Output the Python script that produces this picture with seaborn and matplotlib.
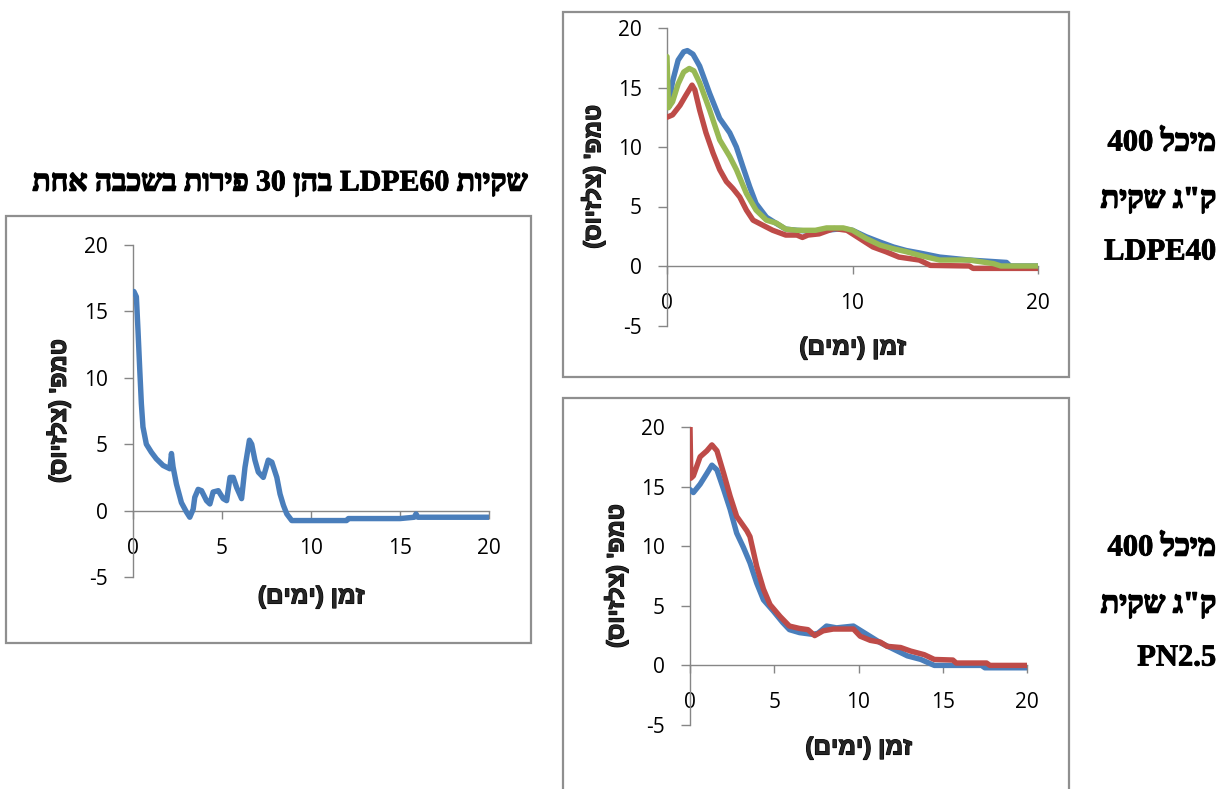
import matplotlib
matplotlib.use("Agg")
import matplotlib.pyplot as plt
from matplotlib.patches import Rectangle
from matplotlib.offsetbox import TextArea, HPacker, AnnotationBbox
import matplotlib.patheffects as pe
import seaborn as sns
import pandas as pd

# ---------------- data ----------------
# LDPE40 panel (top right)
ldpe40_blue_x = [0, 0.1, 0.3, 0.6, 0.9, 1.1, 1.4, 1.76, 2.3, 2.84, 3.38, 3.74, 4.1, 4.46, 4.8, 5.36, 5.9, 6.4, 7.0, 8.0, 8.6, 9.2, 9.6, 10.0, 10.75, 11.5, 12.2, 12.9, 13.6, 14.7, 16.3, 18.3, 18.5, 20]
ldpe40_blue_y = [14.0, 13.6, 15.5, 17.3, 18.0, 18.1, 17.8, 16.8, 14.5, 12.4, 11.2, 10.0, 8.3, 6.65, 5.25, 4.1, 3.57, 3.1, 3.0, 2.9, 3.0, 3.1, 3.1, 3.0, 2.45, 2.0, 1.6, 1.3, 1.1, 0.75, 0.5, 0.3, 0.0, 0.0]
ldpe40_green_x = [0, 0.08, 0.3, 0.6, 0.9, 1.2, 1.45, 1.76, 2.3, 2.84, 3.38, 3.74, 4.28, 4.8, 5.36, 5.9, 6.4, 7.0, 8.0, 8.6, 9.0, 9.5, 10.0, 10.75, 11.5, 12.2, 12.9, 13.6, 14.7, 16.3, 17.6, 18.0, 20]
ldpe40_green_y = [17.6, 13.3, 13.8, 15.3, 16.3, 16.6, 16.4, 15.4, 13.1, 10.6, 9.2, 8.1, 6.1, 4.7, 3.85, 3.6, 3.1, 3.0, 3.0, 3.2, 3.2, 3.2, 3.0, 2.3, 1.75, 1.45, 1.2, 0.9, 0.5, 0.5, 0.2, 0.0, 0.0]
ldpe40_red_x = [0, 0.3, 0.7, 1.0, 1.35, 1.5, 1.76, 2.1, 2.48, 2.84, 3.2, 3.56, 3.92, 4.28, 4.64, 5.2, 5.7, 6.4, 7.0, 7.3, 7.6, 8.2, 9.0, 9.7, 10.4, 11.1, 11.8, 12.5, 13.6, 14.2, 16.3, 16.5, 20]
ldpe40_red_y = [12.5, 12.7, 13.5, 14.3, 15.2, 14.8, 13.1, 11.2, 9.5, 8.1, 7.1, 6.5, 5.8, 4.7, 3.85, 3.4, 3.0, 2.6, 2.6, 2.4, 2.6, 2.7, 3.15, 3.0, 2.3, 1.6, 1.2, 0.75, 0.5, 0.05, 0.0, -0.2, -0.2]

# PN2.5 panel (bottom right)
pn25_blue_x = [0, 0.2, 0.6, 1.0, 1.3, 1.6, 2.0, 2.38, 2.77, 3.17, 3.56, 3.96, 4.36, 4.95, 5.5, 5.9, 6.5, 7.3, 7.6, 8.1, 8.7, 9.7, 10.5, 11.3, 12.1, 12.9, 13.7, 14.5, 17.3, 17.5, 20]
pn25_blue_y = [14.75, 14.5, 15.2, 16.1, 16.8, 16.4, 14.75, 13.1, 11.1, 9.9, 8.6, 6.9, 5.5, 4.55, 3.6, 3.0, 2.75, 2.6, 2.7, 3.3, 3.15, 3.3, 2.6, 1.9, 1.35, 0.8, 0.5, 0.0, 0.0, -0.2, -0.2]
pn25_red_x = [0, 0.05, 0.2, 0.6, 1.0, 1.3, 1.6, 2.0, 2.38, 2.77, 3.37, 3.56, 3.96, 4.36, 4.75, 5.35, 5.9, 6.5, 7.0, 7.4, 7.9, 8.5, 9.7, 10.1, 10.7, 11.3, 11.7, 12.5, 13.1, 13.9, 14.5, 15.6, 15.8, 17.6, 17.8, 20]
pn25_red_y = [20.0, 15.7, 15.9, 17.5, 18.0, 18.5, 18.0, 16.1, 14.2, 12.5, 11.3, 10.8, 8.3, 6.4, 5.1, 4.1, 3.3, 3.1, 3.0, 2.5, 2.9, 3.05, 3.05, 2.45, 2.1, 1.95, 1.6, 1.5, 1.2, 0.9, 0.5, 0.45, 0.2, 0.2, 0.0, 0.0]

# LDPE60 panel (left)
ldpe60_x = [0.05, 0.19, 0.28, 0.38, 0.47, 0.56, 0.75, 1.03, 1.31, 1.69, 2.07, 2.16, 2.25, 2.44, 2.72, 3.0, 3.19, 3.38, 3.47, 3.66, 3.85, 4.13, 4.32, 4.5, 4.79, 5.07, 5.26, 5.45, 5.63, 5.82, 6.1, 6.29, 6.54, 6.67, 6.85, 7.04, 7.32, 7.6, 7.8, 8.08, 8.26, 8.45, 8.64, 8.92, 12.0, 12.1, 13.0, 13.1, 15.0, 15.8, 15.9, 16.0, 20]
ldpe60_y = [16.5, 16.1, 13.6, 10.6, 8.05, 6.3, 5.0, 4.4, 3.9, 3.4, 3.15, 4.3, 3.3, 2.0, 0.6, -0.1, -0.5, 0.1, 1.0, 1.6, 1.5, 0.75, 0.5, 1.4, 1.5, 0.9, 0.75, 2.5, 2.5, 1.75, 0.9, 3.25, 5.3, 5.0, 3.8, 2.9, 2.5, 3.8, 3.65, 2.5, 1.25, 0.4, -0.25, -0.75, -0.75, -0.6, -0.6, -0.6, -0.6, -0.5, -0.25, -0.5, -0.5]

title_text = "שקיות LDPE60 בהן 30 פירות בשכבה אחת"
side_top_lines = ["מיכל 400", "ק\"ג שקית", "LDPE40"]
side_bottom_lines = ["מיכל 400", "ק\"ג שקית", "PN2.5"]
xlabel_text = "זמן (ימים)"
ylabel_text = "טמפ' (צלזיוס)"
y_ticks = [-5, 0, 5, 10, 15, 20]
x_ticks_fine = [0, 5, 10, 15, 20]
x_ticks_coarse = [0, 10, 20]

BLUE = "#4A7EBB"
RED = "#BE4B48"
GREEN = "#98B954"
GRAY = "#868686"


def is_heb(t):
    return any("\u0590" <= c <= "\u05ff" for c in t)


def heb_words(s):
    """Logical-order text -> list of words in visual (left-to-right) order."""
    out = []
    for t in reversed(s.split(" ")):
        if is_heb(t):
            out.append(t[::-1].translate(str.maketrans("()", ")(")))
        else:
            out.append(t)
    return out


def heb(s):
    return " ".join(heb_words(s))


sns.set_theme(style="white")
plt.rcParams["font.family"] = ["Liberation Sans", "DejaVu Sans"]
plt.rcParams["axes.unicode_minus"] = False

W, H = 1220, 789
fig = plt.figure(figsize=(W / 100, H / 100), dpi=100)


def fig_rect(x0, y0, x1, y1):
    return [x0 / W, 1 - y1 / H, (x1 - x0) / W, (y1 - y0) / H]


def frame(x0, y0, x1, y1):
    fig.patches.append(Rectangle((x0 / W, 1 - y1 / H), (x1 - x0) / W, (y1 - y0) / H,
                                 transform=fig.transFigure, fill=False,
                                 edgecolor="#8f8f8f", linewidth=1.6, zorder=0))


frame(6, 216, 531, 643)
frame(563, 12, 1069, 377)
frame(563, 398, 1069, 820)

bold_fx = [pe.withStroke(linewidth=0.9, foreground="black")]


def style_axes(ax, xticks, xl_y, yl_x):
    ax.set_xlim(0, 20)
    ax.set_ylim(-5, 20)
    ax.set_facecolor("none")
    for s in ("top", "right"):
        ax.spines[s].set_visible(False)
    ax.spines["bottom"].set_position(("data", 0))
    for s in ("left", "bottom"):
        ax.spines[s].set_color(GRAY)
        ax.spines[s].set_linewidth(1.0)
        ax.spines[s].set_zorder(1)
    ax.set_xticks(xticks)
    ax.set_yticks(y_ticks)
    ax.tick_params(axis="y", direction="out", length=6.5, width=1.0, color=GRAY,
                   pad=11.5, labelsize=15, left=True, labelcolor="black")
    ax.tick_params(axis="x", direction="out", length=5.5, width=1.0, color=GRAY,
                   pad=14, labelsize=15, bottom=True, labelcolor="black")
    for lab in ax.get_xticklabels() + ax.get_yticklabels():
        lab.set_fontfamily(["Open Sans", "DejaVu Sans"])
    ax.grid(False)
    ax.set_xlabel(heb(xlabel_text), fontsize=17.5, fontweight="bold")
    ax.set_ylabel(heb(ylabel_text), fontsize=17, fontweight="bold")
    ax.xaxis.label.set_path_effects(bold_fx)
    ax.yaxis.label.set_path_effects(bold_fx)
    ax.xaxis.set_label_coords(0.5, xl_y)
    ax.xaxis.label.set_va("center")
    ax.yaxis.set_label_coords(yl_x, 0.5)
    ax.yaxis.label.set_va("center")
    if ax.get_legend() is not None:
        ax.get_legend().remove()


def draw(ax, xs, ys, color):
    df = pd.DataFrame({"x": xs, "y": ys})
    sns.lineplot(data=df, x="x", y="y", ax=ax, color=color, linewidth=3.9,
                 estimator=None, sort=False, zorder=3,
                 solid_joinstyle="round", solid_capstyle="round")


# Left panel
ax_l = fig.add_axes(fig_rect(133, 245, 489, 577))
draw(ax_l, ldpe60_x, ldpe60_y, BLUE)
style_axes(ax_l, x_ticks_fine, -0.060, -0.21)

# Top-right panel
ax_t = fig.add_axes(fig_rect(667, 28, 1038, 325.5))
draw(ax_t, ldpe40_blue_x, ldpe40_blue_y, BLUE)
draw(ax_t, ldpe40_red_x, ldpe40_red_y, RED)
draw(ax_t, ldpe40_green_x, ldpe40_green_y, GREEN)
style_axes(ax_t, x_ticks_coarse, -0.0756, -0.20)

# Bottom-right panel
ax_b = fig.add_axes(fig_rect(690, 427, 1027, 725))
draw(ax_b, pn25_blue_x, pn25_blue_y, BLUE)
draw(ax_b, pn25_red_x, pn25_red_y, RED)
style_axes(ax_b, x_ticks_fine, -0.077, -0.22)


def rich_text(x, y, s, size, halign):
    """Serif bold mixed Hebrew/Latin line, laid out in visual order."""
    words = heb_words(s)
    groups = []
    for w in words:
        h = is_heb(w)
        if groups and groups[-1][0] == h:
            groups[-1][1].append(w)
        else:
            groups.append([h, [w]])
    children = []
    for h, ws in groups:
        props = dict(fontsize=size, fontweight="bold",
                     family=["Liberation Serif", "DejaVu Sans"], color="black",
                     path_effects=[pe.withStroke(linewidth=1.1 if h else 0.6,
                                                 foreground="black")])
        children.append(TextArea(" ".join(ws), textprops=props))
    pack = HPacker(children=children, align="baseline", pad=0, sep=size * 0.25)
    ab = AnnotationBbox(pack, (x / W, 1 - y / H), xycoords="figure fraction",
                        frameon=False, box_alignment=(halign, 0.5), pad=0)
    fig.add_artist(ab)


rich_text(280, 183, title_text, 21.5, 0.5)
for lines, ys in ((side_top_lines, (143, 200, 252)), (side_bottom_lines, (548, 605, 658))):
    for t, yy in zip(lines, ys):
        rich_text(1216, yy, t, 22, 1.0)

fig.savefig("out.png", dpi=100)
